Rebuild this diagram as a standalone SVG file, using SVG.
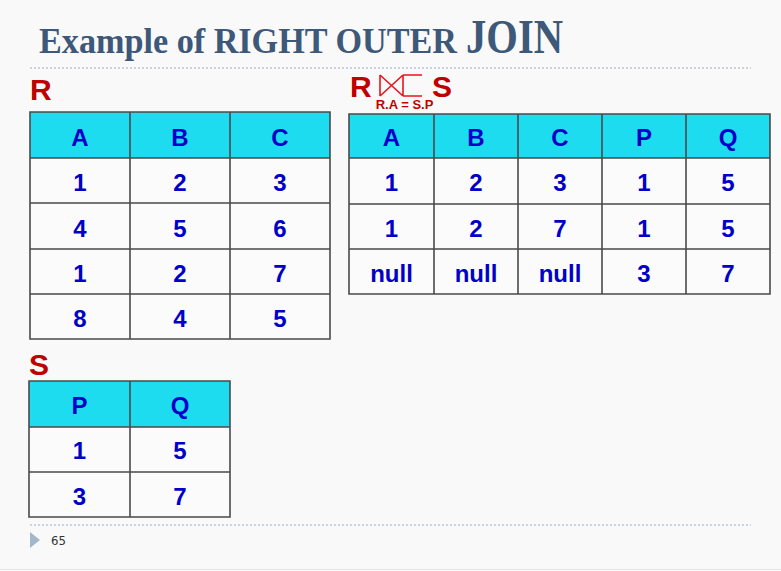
<svg xmlns="http://www.w3.org/2000/svg" width="781" height="571" viewBox="0 0 781 571">
<style>
.bg{fill:#f9f9f9}
.title{font-family:"Liberation Serif","DejaVu Serif",serif;font-weight:bold;fill:#3d5878}
.dots{stroke:#c8d4e0;stroke-width:2;stroke-dasharray:2 2;fill:none}
.lbl{font-family:"Liberation Sans",Arial,sans-serif;font-weight:bold;fill:#c00000}
.hdr{fill:#1ddcef}
.body{fill:#fbfbfb}
.grid{stroke:#4a4a4a;stroke-width:1.6;fill:none}
.cell{font-family:"Liberation Sans",Arial,sans-serif;font-weight:bold;font-size:24px;fill:#0000c8;text-anchor:middle}
.sym{stroke:#e8141e;stroke-width:1.6;fill:none}
.pg{font-family:"DejaVu Sans Condensed","Liberation Sans",sans-serif;font-size:13px;fill:#333}
</style>
<rect class="bg" x="0" y="0" width="781" height="571"/>
<line x1="0" y1="569.5" x2="781" y2="569.5" stroke="#e6e6e6" stroke-width="1"/>

<g id="title">
<text class="title" x="39" y="53" font-size="35" textLength="418" lengthAdjust="spacingAndGlyphs">Example of RIGHT OUTER</text>
<text class="title" x="466" y="53" font-size="49" textLength="97" lengthAdjust="spacingAndGlyphs">JOIN</text>
</g>
<line class="dots" x1="30" y1="68" x2="751" y2="68"/>

<g id="table-R">
<text class="lbl" x="30" y="100" font-size="30">R</text>
<rect class="hdr" x="30" y="112" width="300" height="46"/>
<rect class="body" x="30" y="158" width="300" height="181"/>
<path class="grid" d="M30 112H330V339H30Z M30 158H330 M30 203H330 M30 249H330 M30 294H330 M130 112V339 M230 112V339"/>
<text class="cell" x="80" y="146">A</text><text class="cell" x="180" y="146">B</text><text class="cell" x="280" y="146">C</text>
<text class="cell" x="80" y="191">1</text><text class="cell" x="180" y="191">2</text><text class="cell" x="280" y="191">3</text>
<text class="cell" x="80" y="237">4</text><text class="cell" x="180" y="237">5</text><text class="cell" x="280" y="237">6</text>
<text class="cell" x="80" y="282">1</text><text class="cell" x="180" y="282">2</text><text class="cell" x="280" y="282">7</text>
<text class="cell" x="80" y="327">8</text><text class="cell" x="180" y="327">4</text><text class="cell" x="280" y="327">5</text>
</g>

<g id="table-S">
<text class="lbl" x="29" y="375" font-size="30">S</text>
<rect class="hdr" x="29" y="381" width="201" height="46"/>
<rect class="body" x="29" y="427" width="201" height="90"/>
<path class="grid" d="M29 381H230V517H29Z M29 427H230 M29 472H230 M130 381V517"/>
<text class="cell" x="79.5" y="414">P</text><text class="cell" x="180" y="414">Q</text>
<text class="cell" x="79.5" y="459">1</text><text class="cell" x="180" y="459">5</text>
<text class="cell" x="79.5" y="505">3</text><text class="cell" x="180" y="505">7</text>
</g>

<g id="table-result">
<text class="lbl" x="350" y="97" font-size="30">R</text>
<path class="sym" d="M380 75V96 M380 75L403 96 M380 96L403 75 M403 75V96 M403 75H422 M403 96H422"/>
<text class="lbl" x="432" y="97" font-size="30">S</text>
<text class="lbl" x="404.5" y="109" font-size="13" text-anchor="middle">R.A = S.P</text>
<rect class="hdr" x="349" y="114" width="421" height="44"/>
<rect class="body" x="349" y="158" width="421" height="136"/>
<path class="grid" d="M349 114H770V294H349Z M349 158H770 M349 204H770 M349 249H770 M434 114V294 M518 114V294 M602 114V294 M686 114V294"/>
<text class="cell" x="391.5" y="146">A</text><text class="cell" x="476" y="146">B</text><text class="cell" x="560" y="146">C</text><text class="cell" x="644" y="146">P</text><text class="cell" x="728" y="146">Q</text>
<text class="cell" x="391.5" y="191">1</text><text class="cell" x="476" y="191">2</text><text class="cell" x="560" y="191">3</text><text class="cell" x="644" y="191">1</text><text class="cell" x="728" y="191">5</text>
<text class="cell" x="391.5" y="237">1</text><text class="cell" x="476" y="237">2</text><text class="cell" x="560" y="237">7</text><text class="cell" x="644" y="237">1</text><text class="cell" x="728" y="237">5</text>
<text class="cell" x="391.5" y="282">null</text><text class="cell" x="476" y="282">null</text><text class="cell" x="560" y="282">null</text><text class="cell" x="644" y="282">3</text><text class="cell" x="728" y="282">7</text>
</g>

<line class="dots" x1="30" y1="525" x2="751" y2="525"/>
<g id="footer">
<polygon points="30,532 40,540 30,548" fill="#a3b7cb"/>
<text class="pg" x="51" y="545">65</text>
</g>
</svg>
